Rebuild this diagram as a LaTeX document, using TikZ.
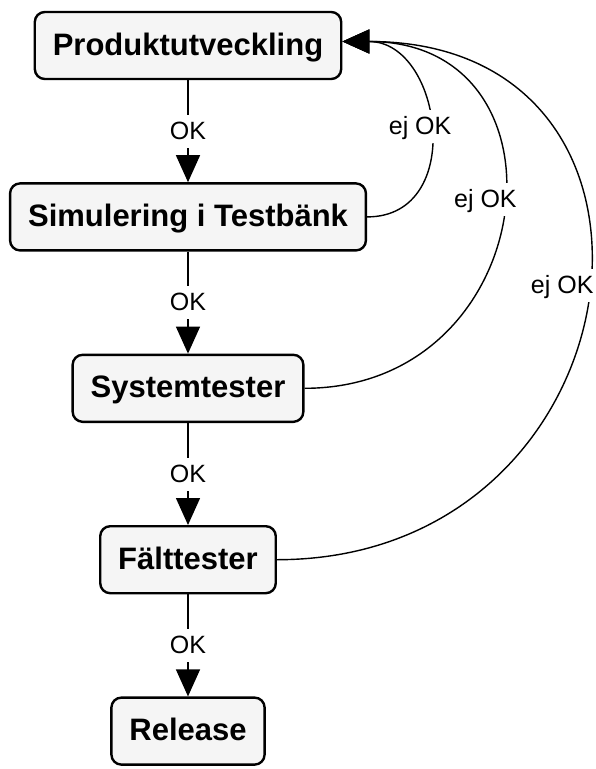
\documentclass[tikz,border=0pt]{standalone}
\usepackage{fontspec}
\setmainfont{Liberation Sans}
\usepackage{tikz}
\usetikzlibrary{positioning, arrows.meta, calc}

\begin{document}
\begin{tikzpicture}[
		node distance=102pt,
		% --- STILAR ---
		flowblock/.style={
			rectangle, draw, rounded corners=10pt, line width=2.4pt, fill=black!4,
			minimum height=67pt, inner xsep=18pt, text height=26pt, text depth=7pt,
			font=\fontsize{31}{37}\selectfont\bfseries
		},
		line/.style={
			draw, line width=1.4pt, -{Triangle[length=27pt, width=24pt]}
		},
		oklabel/.style={
			fill=white, inner xsep=2pt, inner ysep=6.5pt, text height=18pt, text depth=2pt,
			font=\fontsize{25}{30}\selectfont
		}
		]
		
		\useasboundingbox (0,0) rectangle (595pt,-769pt);
		
		% ==========================================
		% 1. Blocken i flödet
		% ==========================================
		\node [flowblock] (produkt) at (188pt,-45.5pt) {Produktutveckling};
		\node [flowblock, below=of produkt] (simulering) {Simulering i Testbänk};
		\node [flowblock, below=of simulering] (system) {Systemtester};
		\node [flowblock, below=of system] (falt) {Fälttester};
		\node [flowblock, below=of falt] (release) {Release};
		
		% ==========================================
		% 2. OK-pilar nedåt
		% ==========================================
		\draw [line] (produkt) -- node[oklabel] {OK} (simulering);
		\draw [line] (simulering) -- node[oklabel] {OK} (system);
		\draw [line] (system) -- node[oklabel] {OK} (falt);
		\draw [line] (falt) -- node[oklabel] {OK} (release);
		
		% ==========================================
		% 3. Returer (ej OK) till Produktutveckling
		% ==========================================
		\coordinate (retur) at ([yshift=4pt]produkt.east);
		
		\draw [line] (simulering.east) to[out=0, in=0, looseness=1.44]
		node[oklabel, pos=0.51, xshift=-9pt] {ej OK} (retur);
		\draw [line] (system.east) to[out=0, in=0, looseness=1.74]
		node[oklabel, pos=0.53, xshift=-17pt] {ej OK} (retur);
		\draw [line] (falt.east) to[out=0, in=0, looseness=1.8]
		node[oklabel, pos=0.52, xshift=-25pt] {ej OK} (retur); % sista returen
	\end{tikzpicture}
\end{document}
